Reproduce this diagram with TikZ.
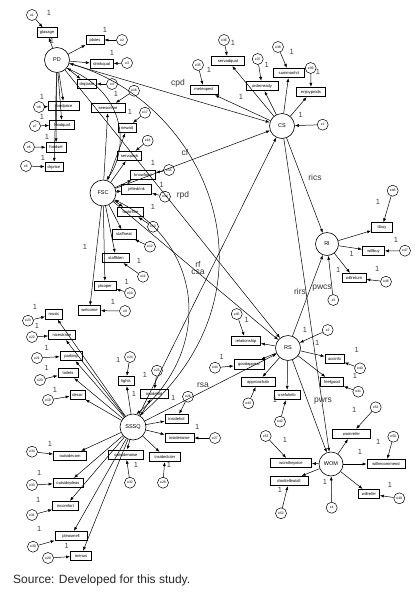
\documentclass[tikz,border=0pt]{standalone}
\usepackage{fontspec}
\setmainfont{Liberation Sans}
\usetikzlibrary{arrows.meta}
\begin{document}
\begin{tikzpicture}[x=1pt,y=-1pt,
 obs/.style={draw, line width=0.7pt, inner xsep=0.6pt, inner ysep=0pt, minimum height=9.5pt, font=\fontsize{4.1}{4.5}\selectfont},
 lat/.style={draw, circle, line width=0.6pt, inner sep=0pt, minimum size=25pt, font=\fontsize{5.5}{6}\selectfont},
 err/.style={draw, circle, line width=0.5pt, inner sep=0pt, minimum size=11pt, font=\fontsize{3.4}{4}\selectfont},
 one/.style={font=\fontsize{7.5}{8}\selectfont, text=black!75, inner sep=0pt},
 plab/.style={font=\fontsize{8.5}{9}\selectfont, text=black!80, inner sep=0pt},
 arr/.style={-{Latex[length=4pt,width=3pt]}, line width=0.5pt},
 cov/.style={{Latex[length=4pt,width=3pt]}-{Latex[length=4pt,width=3pt]}, line width=0.5pt},
]
\useasboundingbox (0,0) rectangle (420,592);

% latent variables
\node[lat] (PD) at (57,60) {PD};
\node[lat] (CS) at (282,126) {CS};
\node[lat, minimum size=26pt] (FSC) at (103,193) {FSC};
\node[lat, minimum size=23pt] (RI) at (327,244) {RI};
\node[lat] (RS) at (288,348) {RS};
\node[lat, minimum size=26pt] (SSSQ) at (133,427) {SSSQ};
\node[lat, minimum size=24pt] (WOM) at (331,464) {WOM};

% observed variables
\foreach \n/\x/\y/\w/\t in {
 glasage/47/32.5/20/glasage, plates/95/40/18/plates, drinkqual/101.7/64/23/drinkqual,
 drqtaste/87/84/19/drqtaste, foodprice/64/106/31/foodprice, foodqual/62/125/25/foodqual,
 foodsel/56/147.5/20/foodsel, drprice/54/167/18/drprice,
 seescrime/108/108/34/seescrime, newait/127/128/18/newait, servquick/129.5/156/24/servquick,
 knowfood/143/175/25/knowfood, jeltedrink/136.7/189.5/30/jeltedrink, tastofthe/130.5/212/26/tastofthe,
 staffneat/124/234.5/24/staffneat, staffklen/116/258/27/staffklen, plsoper/105/286/22/plsoper,
 welcome/89.5/310.5/22/welcome,
 meteopect/204/90/28/meteopect, servadquat/228/61/33/servadquat, orderready/262/86/32/orderready,
 summonhrt/289/73/31/summonhrt, enjoyprods/311/92/29/enjoyprods,
 itbuy/382/227.5/21/itbuy, willbuy/373.5/251/22/willbuy, willreturn/354/278/24/willreturn,
 relationship/246/341/29/relationship, goodappear/249/364.5/30/goodappear,
 approachab/258/382/34/approachab, usefulinfo/287/395/26/usefulinfo,
 accinfo/334.5/358.7/19/accinfo, feelgood/332/382/23/feelgood,
 womrefer/351.5/434/38/womrefer, willrecommend/386/464/38/willrecommend,
 womtheprice/291/463/41/womtheprice, donttell/289/481/38/donttelleatall, willrefer/369/494/21/willrefer,
 music/54/314.5/17/music, nicestrace/62/335/27/nicestrace, parking/71/356/22/parking,
 toilets/68/373/20/toilets, decor/77.5/395/15/decor, lights/126/381/16/lights,
 insidebld/154/394/28/insidebld, insidehol/176.5/419/23/insidehol, insidenoise/179.5/438/29/insidenoise,
 insideclutter/165/457/31/insidecluter, outsidenoise/126/454.7/35/outsidenoise,
 outsidecom/70/456/33/outsidecom, outsidedisp/68/483/30/outsidepleas, incomfort/65.5/506/26/incomfort,
 pleasmell/71/536/32/pleasmell, menus/81/556/21/menus}
 \node[obs, minimum width=\w pt] (\n) at (\x,\y) {\t};

% loadings
\foreach \n in {glasage,plates,drinkqual,drqtaste,foodprice,foodqual,foodsel,drprice}
 \draw[arr] (PD) -- (\n);
\foreach \n in {seescrime,newait,servquick,knowfood,jeltedrink,tastofthe,staffneat,staffklen,plsoper,welcome}
 \draw[arr] (FSC) -- (\n);
\foreach \n in {meteopect,servadquat,orderready,summonhrt,enjoyprods}
 \draw[arr] (CS) -- (\n);
\foreach \n in {itbuy,willbuy,willreturn}
 \draw[arr] (RI) -- (\n);
\foreach \n in {relationship,goodappear,approachab,usefulinfo,accinfo,feelgood}
 \draw[arr] (RS) -- (\n);
\foreach \n in {womrefer,willrecommend,womtheprice,donttell,willrefer}
 \draw[arr] (WOM) -- (\n);
\foreach \n in {music,nicestrace,parking,toilets,decor,lights,insidebld,insidehol,insidenoise,insideclutter,outsidenoise,outsidecom,outsidedisp,incomfort,pleasmell,menus}
 \draw[arr] (SSSQ) -- (\n);

% error terms
\foreach \n/\x/\y/\g in {
 e1/32/15/glasage, e2/122/40/plates, e3/127/63/drinkqual, e4/112/84/drqtaste,
 e8/39/107/foodprice, e7/35/126/foodqual, e6/29/147/foodsel, e5/26/166/drprice,
 e16/134/90.7/seescrime, e17/145/112.7/newait, e18/147.7/140.7/servquick, e15/169/170/knowfood,
 e14/165/196.7/jeltedrink, e13/153/226.7/tastofthe, e12/150/246.7/staffneat, e11/143/276.7/staffklen,
 e10/130/293/plsoper, e9/125/311/welcome,
 e35/198/65/meteopect, e36/224/40/servadquat, e37/257.7/59/orderready, e38/278/47/summonhrt,
 e39/310.7/68/enjoyprods, z1/322.7/124.7/CS,
 e48/392.7/190.7/itbuy, e47/405/250.7/willbuy, e46/386/281.7/willreturn, z3/333.3/300/RI,
 e45/236.7/314/relationship, e44/215/367.7/goodappear, e43/248.3/403.3/approachab,
 e42/280/421.7/usefulinfo, e40/360/368.3/accinfo, e41/358.3/391.7/feelgood, z2/327.7/330/RS,
 e51/375.7/407.3/womrefer, e50/393.3/436.7/willrecommend, e53/265.7/436/womtheprice,
 e52/281/513.3/donttell, e49/399.3/498.3/willrefer, z4/331.7/507.7/WOM,
 e23/28/320.7/music, e22/32/337/nicestrace, e21/37/358/parking, e20/40/380/toilets,
 e19/48/400/decor, e24/130/357/lights, e25/157/370.7/insidebld, e26/188/396.7/insidehol,
 e27/215/438/insidenoise, e28/163/482.7/insideclutter, e32/130/482.7/outsidenoise,
 e34/32/451.7/outsidecom, e33/32/485/outsidedisp, e31/32/515/incomfort, e30/33/546.7/pleasmell,
 e29/48/558/menus}
 {\node[err] (\n) at (\x,\y) {\n}; \draw[arr] (\n) -- (\g);}

% structural paths
\draw[arr] (PD) -- (CS);
\draw[arr] (FSC) -- (CS);
\draw[arr] (SSSQ) -- (CS);
\draw[arr] (PD) -- (RS);
\draw[arr] (FSC) -- (RS);
\draw[arr] (SSSQ) -- (RS);
\draw[arr] (CS) -- (RI);
\draw[arr] (RS) -- (RI);
\draw[arr] (CS) -- (WOM);
\draw[arr] (RS) -- (WOM);

% covariances
\draw[cov] (PD.-40) .. controls (128,95) and (128,150) .. (FSC.75);
\draw[cov] (PD.-15) .. controls (210,105) and (285,290) .. (SSSQ.60);
\draw[cov] (FSC.-30) .. controls (205,245) and (212,350) .. (SSSQ.75);

% path labels
\node[plab] (lcpd) at (178,83) {cpd};
\node[plab] (lcf) at (185,152.7) {cf};
\node[plab] (lrpd) at (183,195) {rpd};
\node[plab] (lrf) at (198,264) {rf};
\node[plab] (lcsa) at (198,272.5) {csa};
\node[plab] (lrsa) at (203,385) {rsa};
\node[plab] (lrics) at (315,177) {rics};
\node[plab] (lrirs) at (300,291) {rirs};
\node[plab] (lpwcs) at (322,288) {pwcs};
\node[plab] (lpwrs) at (323,400.7) {pwrs};

% fixed loadings "1"
\foreach \x/\y [count=\i] in {
 49/13, 105/30, 112/53, 116/94, 42/97, 42/117, 47/137, 43/158, 52/41,
 130/112, 153/163, 161.7/185, 153/207, 139/260.7, 126.7/281.7, 113/301.7, 85/246.7,
 209/70, 233/43, 266.7/65, 291.7/51.7, 318/71.7, 241/97, 300.7/115,
 378/201.7, 396/240, 377.3/269.3, 338.3/270, 351.7/254.3,
 246.7/320, 221.7/356.7, 275/400, 356.7/350, 355/376, 305/330, 317.3/343.3,
 354.3/410, 378.3/441.7, 360/451.7, 285/440, 280/490, 390/485, 325/481.7,
 35/307, 37/326, 46.7/348, 46.7/368, 55/390, 118.3/360, 145/375, 173.3/398.3, 197.3/426.7,
 134/394.3, 50/444, 39.3/473.3, 38.3/500, 39.3/529.3, 66.7/546, 136/465, 169/465}
 \node[one] (one\i) at (\x,\y) {1};

\node[font=\fontsize{12}{13}\selectfont, text=black!85, anchor=west, inner sep=0pt] (src) at (13,580) {Source: Developed for this study.};
\end{tikzpicture}
\end{document}
